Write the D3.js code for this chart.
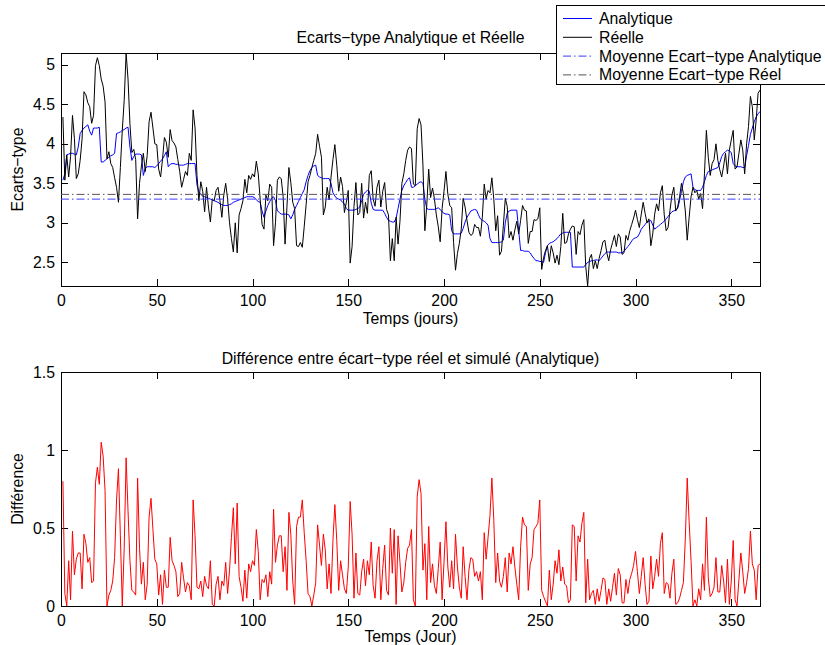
<!DOCTYPE html>
<html>
<head>
<meta charset="utf-8">
<script src="https://cdn.jsdelivr.net/npm/d3@7"></script>
<style>
  body { margin: 0; background: #fff; }
  svg text { font-family: "Liberation Sans", Arial, Helvetica, sans-serif; font-size: 15.8px; fill: #000; }
</style>
</head>
<body>
<svg id="fig" width="825" height="645"></svg>
<script>
// Day index (1..365)
const days = d3.range(1, 366);

// Daily real standard deviation
const reelle = [
  4.34,3.54,3.86,3.58,3.84,4.36,4.07,3.56,3.62,3.79,
  4.06,4.66,4.62,4.52,4.47,4.26,4.36,4.99,5.09,4.99,
  4.82,4.73,4.53,3.81,3.90,3.75,3.70,3.57,3.45,3.26,
  3.70,4.17,4.55,5.15,4.82,4.25,3.89,3.93,3.80,3.05,
  3.50,3.72,3.88,3.65,3.85,4.28,4.40,4.20,4.00,3.99,
  3.68,3.58,3.80,4.08,4.02,3.83,4.18,4.04,4.01,3.96,
  3.80,3.65,3.45,
  3.55,3.65,3.60,3.88,3.79,4.43,4.20,3.60,3.28,3.52,
  3.40,3.14,3.45,3.20,3.01,3.30,3.28,3.41,3.45,3.28,
  3.07,3.35,3.50,3.30,3.00,2.80,2.63,3.00,2.62,3.10,
  3.18,3.28,3.55,3.38,3.60,3.55,3.62,3.58,3.78,3.62,
  3.30,2.98,2.92,3.35,3.28,3.49,3.45,2.71,3.00,3.54,
  3.58,3.56,3.33,2.73,3.21,3.70,3.51,
  3.26,3.18,2.71,2.70,2.75,2.69,2.95,3.23,3.52,3.60,
  3.70,3.79,3.88,4.12,3.97,3.83,3.10,3.20,3.45,3.29,
  3.58,3.80,3.99,3.73,3.40,3.58,3.46,3.13,3.26,3.41,
  2.49,2.70,3.21,3.51,3.10,3.13,3.50,3.06,3.26,3.12,
  3.60,3.66,3.30,3.21,3.45,3.54,3.20,3.40,3.51,3.17,
  3.10,2.52,2.80,2.52,3.07,2.73,3.02,3.50,3.62,3.79,
  3.92,3.96,
  3.94,3.49,3.47,4.19,4.32,4.24,3.73,2.90,3.22,3.68,
  3.32,3.44,3.30,3.10,2.95,2.76,3.18,3.40,3.65,3.36,
  3.22,3.19,2.75,2.40,2.61,2.74,2.92,3.31,3.20,3.03,
  2.88,2.84,2.86,2.98,2.94,2.94,2.83,3.07,3.49,3.30,
  3.41,3.38,3.57,3.30,2.90,3.09,2.59,2.64,2.97,3.31,
  3.21,2.81,2.89,2.78,2.91,3.02,2.86,3.03,3.22,3.16,
  3.15,2.74,2.89,2.89,3.04,3.03,3.05,3.19,2.41,2.56,
  2.65,2.71,2.51,2.71,2.62,2.49,2.59,2.47,2.70,3.12,
  2.74,2.75,2.86,2.92,2.96,2.95,2.60,2.89,2.85,2.97,
  3.04,2.45,2.20,
  2.55,2.60,2.42,2.52,2.42,2.55,2.65,2.76,2.78,2.62,
  2.52,2.66,2.75,2.84,2.70,2.86,2.82,2.60,2.62,2.84,
  2.78,2.90,2.98,3.06,3.16,3.04,2.94,3.11,3.26,3.12,
  3.00,3.05,2.71,2.86,3.11,3.24,3.15,3.38,3.47,3.10,
  2.90,2.94,3.16,3.35,3.45,3.15,3.20,3.33,3.50,3.37,
  3.15,2.78,3.07,3.33,3.45,3.38,3.41,3.30,3.37,3.18,
  3.62,4.17,3.83,3.60,3.75,3.80,4.00,3.79,3.67,3.58,
  3.72,3.88,3.62,3.92,4.05,4.17,3.68,3.71,3.88,4.05,
  3.92,3.62,4.00,4.22,4.60,4.47,4.05,4.30,4.64,4.68
];

// Daily analytic standard deviation
const analytique = [
  3.54,3.62,3.86,3.87,3.88,3.88,3.87,3.86,3.96,4.13,
  4.17,4.20,4.22,4.24,4.16,4.11,4.20,4.20,4.20,4.21,
  3.77,3.77,3.79,3.81,3.83,3.85,3.86,3.88,4.13,4.14,
  4.15,4.17,4.18,4.20,4.21,3.96,3.79,3.84,3.87,3.87,
  3.87,3.86,3.60,3.69,3.71,3.71,3.71,3.71,3.70,3.72,
  3.75,3.78,3.81,3.85,3.90,3.71,3.74,3.75,3.75,3.74,
  3.74,3.73,3.73,
  3.73,3.74,3.75,3.75,3.75,3.75,3.75,3.48,3.39,3.36,
  3.34,3.33,3.32,3.31,3.30,3.29,3.28,3.27,3.26,3.24,
  3.23,3.22,3.22,3.22,3.23,3.24,3.26,3.27,3.28,3.29,
  3.30,3.31,3.32,3.33,3.33,3.33,3.33,3.32,3.29,3.27,
  3.26,3.15,3.07,3.15,3.22,3.27,3.31,3.33,3.28,3.15,
  3.13,3.11,3.11,3.11,3.11,3.10,3.05,
  3.10,3.17,3.22,3.27,3.32,3.37,3.42,3.52,3.60,3.66,
  3.70,3.72,3.73,3.60,3.58,3.57,3.56,3.56,3.56,3.56,
  3.50,3.38,3.34,3.31,3.30,3.29,3.26,3.24,3.18,3.16,
  3.16,3.16,3.16,3.17,3.18,3.20,3.28,3.36,3.39,3.41,
  3.40,3.25,3.17,3.16,3.16,3.16,3.16,3.16,3.12,3.07,
  3.03,3.02,3.01,3.01,3.06,3.18,3.30,3.41,3.47,3.51,
  3.55,3.57,
  3.45,3.45,3.47,3.49,3.51,3.52,3.50,3.30,3.18,3.17,
  3.17,3.17,3.17,3.18,3.19,3.17,3.14,3.12,3.11,3.11,
  3.10,2.90,2.86,2.86,2.86,2.86,2.87,2.93,3.01,3.07,
  3.11,3.15,3.16,3.17,3.16,3.10,3.05,3.03,3.02,3.00,
  2.97,2.80,2.75,2.75,2.75,2.75,2.75,2.76,2.78,3.00,
  3.12,3.15,3.16,3.16,3.16,3.16,2.90,2.65,2.65,2.64,
  2.64,2.64,2.62,2.58,2.55,2.52,2.52,2.51,2.51,2.50,
  2.62,2.71,2.74,2.75,2.76,2.78,2.80,2.83,2.86,2.87,
  2.88,2.88,2.88,2.88,2.44,2.44,2.44,2.44,2.44,2.44,
  2.44,2.47,2.50,
  2.51,2.52,2.52,2.53,2.53,2.52,2.55,2.58,2.61,2.63,
  2.63,2.63,2.63,2.63,2.63,2.62,2.62,2.62,2.64,2.67,
  2.70,2.73,2.77,2.80,2.81,2.82,2.86,2.92,2.95,2.98,
  3.01,3.02,3.03,2.97,2.92,2.94,2.96,2.98,3.00,3.02,
  3.05,3.08,3.11,3.14,3.15,3.16,3.18,3.28,3.40,3.52,
  3.58,3.60,3.61,3.62,3.45,3.42,3.41,3.41,3.41,3.45,
  3.52,3.60,3.65,3.66,3.67,3.68,3.69,3.70,3.76,3.84,
  3.88,3.90,3.92,3.91,3.89,3.75,3.72,3.71,3.71,3.71,
  3.70,3.70,3.85,3.98,4.12,4.20,4.28,4.34,4.38,4.41
];

// Yearly means of both series
const moyenneAnalytique = 3.30;
const moyenneReelle = 3.36;

// Absolute gap between real and simulated (analytic) standard deviation
const difference = reelle.map((v, i) => Math.abs(v - analytique[i]));

// Tick values
const xTicks = [0, 50, 100, 150, 200, 250, 300, 350];
const yTicksTop = [2.5, 3, 3.5, 4, 4.5, 5];
const yTicksBottom = [0, 0.5, 1, 1.5];

const legendLabels = ["Analytique", "Réelle", "Moyenne Ecart\u2212type Analytique", "Moyenne Ecart\u2212type Réel"];

// ---- layout ----
const left = 61, right = 760;
const top1 = 53, bottom1 = 286;
const top2 = 372, bottom2 = 606;
const TICK = 7;

const svg = d3.select("#fig");
svg.append("rect").attr("width", 825).attr("height", 645).attr("fill", "#fff");

const x = d3.scaleLinear().domain([0, 365]).range([left, right]);
const y1 = d3.scaleLinear().domain(d3.extent(reelle)).range([bottom1, top1]);
const y2 = d3.scaleLinear().domain([0, 1.5]).range([bottom2, top2]);

const fmt = d => String(d);

function frame(y, top, bottom, yTicks) {
  const g = svg.append("g").attr("shape-rendering", "crispEdges");
  const ax = [
    g.append("g").attr("transform", `translate(0,${bottom})`)
      .call(d3.axisBottom(x).tickValues(xTicks).tickSize(-TICK).tickPadding(8.5).tickFormat(fmt)),
    g.append("g").attr("transform", `translate(0,${top})`)
      .call(d3.axisTop(x).tickValues(xTicks).tickSize(-TICK).tickFormat("")),
    g.append("g").attr("transform", `translate(${left},0)`)
      .call(d3.axisLeft(y).tickValues(yTicks).tickSize(-TICK).tickPadding(6).tickFormat(fmt)),
    g.append("g").attr("transform", `translate(${right},0)`)
      .call(d3.axisRight(y).tickValues(yTicks).tickSize(-TICK).tickFormat(""))
  ];
  ax.forEach(a => { a.select(".domain").remove(); a.attr("font-size", null).attr("font-family", null); });
  g.append("rect")
    .attr("x", left).attr("y", top)
    .attr("width", right - left).attr("height", bottom - top)
    .attr("fill", "none").attr("stroke", "#000").attr("stroke-width", 1);
  return g;
}

function series(data, y, color, width) {
  return svg.append("path")
    .datum(data)
    .attr("fill", "none")
    .attr("stroke", color)
    .attr("stroke-width", width)
    .attr("stroke-linejoin", "round")
    .attr("d", d3.line().x((d, i) => x(days[i])).y(d => y(d)));
}

function meanLine(value, y, color) {
  return svg.append("line")
    .attr("x1", x(0)).attr("x2", x(365))
    .attr("y1", y(value)).attr("y2", y(value))
    .attr("stroke", color).attr("stroke-width", 1)
    .attr("stroke-dasharray", "8,3,1.5,3");
}

// ---- top panel ----
frame(y1, top1, bottom1, yTicksTop);
series(analytique, y1, "#0000ff", 1);
series(reelle, y1, "#000000", 1);
meanLine(moyenneAnalytique, y1, "#3a3aff");
meanLine(moyenneReelle, y1, "#555555");

svg.append("text").attr("x", (left + right) / 2).attr("y", 42.5)
  .attr("text-anchor", "middle").text("Ecarts\u2212type Analytique et Réelle");
svg.append("text").attr("x", (left + right) / 2).attr("y", 323.5)
  .attr("text-anchor", "middle").text("Temps (jours)");
svg.append("text").attr("transform", `translate(23,${(top1 + bottom1) / 2}) rotate(-90)`)
  .attr("text-anchor", "middle").text("Ecarts\u2212type");

// ---- bottom panel ----
frame(y2, top2, bottom2, yTicksBottom);
series(difference, y2, "#ff0000", 1);

svg.append("text").attr("x", (left + right) / 2).attr("y", 363.5)
  .attr("text-anchor", "middle").text("Différence entre écart\u2212type réel et simulé (Analytique)");
svg.append("text").attr("x", (left + right) / 2).attr("y", 642)
  .attr("text-anchor", "middle").text("Temps (Jour)");
svg.append("text").attr("transform", `translate(23,${(top2 + bottom2) / 2}) rotate(-90)`)
  .attr("text-anchor", "middle").text("Différence");

// ---- legend ----
const legendStyles = [
  { color: "#0000ff", dash: null },
  { color: "#000000", dash: null },
  { color: "#3a3aff", dash: "8,3,1.5,3" },
  { color: "#555555", dash: "8,3,1.5,3" }
];
const lg = svg.append("g");
lg.append("rect").attr("x", 556.5).attr("y", 5.5).attr("width", 269).attr("height", 79)
  .attr("fill", "#fff").attr("stroke", "#000").attr("stroke-width", 1);
legendLabels.forEach((label, i) => {
  const cy = 18.5 + i * 18.8;
  lg.append("line").attr("x1", 563).attr("x2", 592).attr("y1", cy).attr("y2", cy)
    .attr("stroke", legendStyles[i].color).attr("stroke-width", 1)
    .attr("stroke-dasharray", legendStyles[i].dash);
  lg.append("text").attr("x", 599).attr("y", cy + 5.5).text(label);
});
</script>
</body>
</html>
